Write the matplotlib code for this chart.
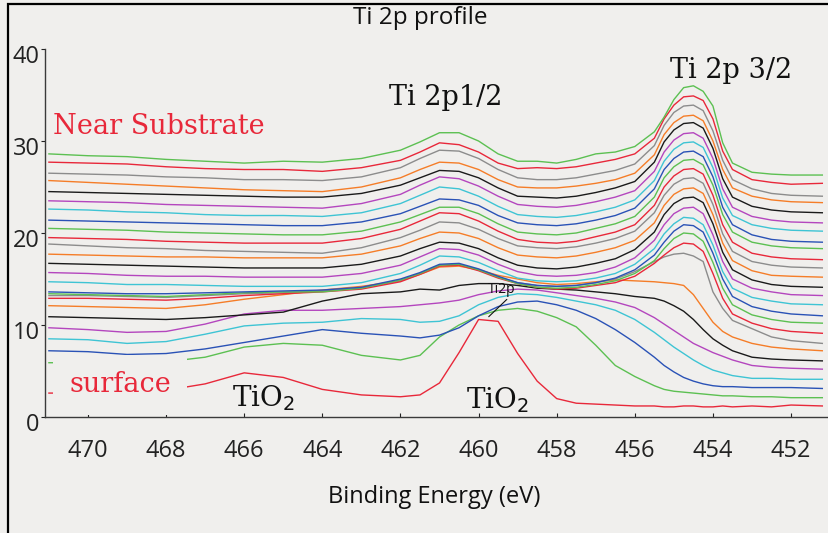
import matplotlib
matplotlib.use("Agg")
import matplotlib.pyplot as plt
from matplotlib.patches import Rectangle
from matplotlib.transforms import ScaledTranslation

# Binding energy grid (eV)
energy = [471, 470, 469, 468, 467, 466, 465, 464, 463, 462, 461.5, 461, 460.5, 460,
          459.5, 459, 458.5, 458, 457.5, 457, 456.5, 456, 455.5, 455.25, 455, 454.75,
          454.5, 454.25, 454, 453.75, 453.5, 453, 452.5, 452, 451.2]

# Depth-profile spectra, surface (bottom) to near substrate (top)
s00_red = [2.6, 2.6, 2.7, 2.9, 3.6, 4.8, 4.3, 3.0, 2.4, 2.2, 2.4, 3.7, 7.0, 10.6, 10.4, 6.9, 3.9, 2.0, 1.5, 1.4, 1.3, 1.2,
           1.2, 1.1, 1.1, 1.2, 1.2, 1.1, 1.1, 1.2, 1.1, 1.2, 1.1, 1.3, 1.2]
s01_green = [5.9, 5.9, 5.9, 6.0, 6.5, 7.6, 8.0, 7.8, 6.7, 6.2, 6.7, 8.7, 10.0, 11.0, 11.6, 11.8, 11.5, 10.8, 9.8, 7.8, 5.6, 4.4,
             3.4, 3.0, 2.8, 2.7, 2.6, 2.5, 2.4, 2.3, 2.3, 2.2, 2.2, 2.1, 2.1]
s02_blue = [7.2, 7.1, 6.8, 6.9, 7.4, 8.1, 8.8, 9.5, 9.1, 8.8, 8.6, 8.9, 9.7, 11.0, 12.0, 12.5, 12.6, 12.2, 11.6, 10.7, 9.5, 8.1,
            6.5, 5.6, 4.9, 4.3, 3.9, 3.6, 3.4, 3.3, 3.3, 3.2, 3.2, 3.2, 3.1]
s03_cyan = [8.5, 8.4, 8.0, 8.2, 9.0, 9.9, 10.2, 10.3, 10.7, 10.6, 10.3, 10.4, 11.0, 12.2, 13.0, 13.4, 13.3, 13.0, 12.6, 12.2, 11.6, 10.6,
            9.2, 8.4, 7.6, 6.9, 6.2, 5.6, 5.1, 4.8, 4.5, 4.2, 4.2, 4.1, 4.1]
s04_magenta = [9.7, 9.5, 9.2, 9.3, 10.1, 11.2, 11.6, 11.6, 11.8, 12.0, 12.2, 12.4, 12.7, 13.3, 13.7, 13.9, 13.8, 13.5, 13.2, 12.9, 12.5, 11.9,
               10.8, 10.1, 9.4, 8.7, 8.0, 7.5, 7.0, 6.6, 6.2, 5.6, 5.4, 5.3, 5.2]
s05_black = [10.9, 10.8, 10.7, 10.6, 10.8, 11.1, 11.4, 12.6, 13.4, 13.6, 13.9, 13.8, 14.3, 14.5, 14.5, 14.3, 14.0, 13.9, 13.8, 13.6, 13.4, 13.1,
             12.9, 12.6, 12.1, 11.5, 10.6, 9.5, 8.5, 7.8, 7.2, 6.5, 6.3, 6.2, 6.1]
s06_orange = [12.1, 12.0, 11.9, 11.8, 12.2, 12.8, 13.3, 13.8, 14.2, 14.8, 15.5, 16.3, 16.4, 16.0, 15.4, 15.0, 14.6, 14.4, 14.5, 14.7, 14.9, 14.8,
              14.7, 14.6, 14.5, 14.3, 13.3, 11.8, 10.3, 9.3, 8.7, 8.0, 7.6, 7.4, 7.2]
s07_gray = [13.2, 13.2, 13.1, 13.0, 13.2, 13.4, 13.5, 13.7, 14.0, 14.8, 15.6, 16.5, 16.6, 16.0, 15.2, 14.6, 14.3, 14.2, 14.3, 14.6, 15.0, 15.8,
            16.9, 17.4, 17.7, 17.8, 17.5, 16.9, 13.6, 11.8, 10.5, 9.6, 8.7, 8.3, 8.0]
s08_red = [12.9, 12.9, 12.8, 12.7, 12.9, 13.2, 13.4, 13.6, 13.9, 14.7, 15.5, 16.4, 16.5, 15.9, 15.1, 14.5, 14.1, 13.9, 14.0, 14.3, 14.6, 15.3,
           16.7, 17.6, 18.4, 18.9, 18.8, 18.0, 15.6, 12.9, 11.2, 10.2, 9.6, 9.3, 9.1]
s09_green = [13.4, 13.3, 13.2, 13.1, 13.3, 13.5, 13.6, 13.6, 14.0, 14.9, 15.6, 16.5, 16.6, 16.0, 15.2, 14.5, 14.1, 14.0, 14.1, 14.4, 14.8, 15.6,
             17.0, 18.3, 19.4, 20.0, 19.9, 19.1, 16.8, 14.0, 12.2, 11.1, 10.6, 10.3, 10.2]
s10_blue = [13.6, 13.5, 13.4, 13.4, 13.5, 13.6, 13.7, 13.8, 14.1, 15.0, 15.7, 16.6, 16.7, 16.1, 15.3, 14.6, 14.3, 14.2, 14.3, 14.6, 15.1, 16.0,
            17.6, 19.0, 20.2, 20.9, 20.8, 20.1, 17.8, 15.0, 13.1, 12.0, 11.5, 11.2, 11.0]
s11_cyan = [14.7, 14.6, 14.4, 14.4, 14.3, 14.2, 14.2, 14.2, 14.6, 15.6, 16.5, 17.5, 17.4, 16.8, 15.9, 15.1, 14.8, 14.7, 14.8, 15.1, 15.6, 16.6,
            18.3, 19.9, 21.0, 21.7, 21.6, 20.9, 18.7, 15.8, 14.0, 13.0, 12.6, 12.3, 12.2]
s12_magenta = [15.7, 15.6, 15.4, 15.3, 15.3, 15.2, 15.2, 15.2, 15.6, 16.5, 17.4, 18.3, 18.2, 17.6, 16.6, 15.8, 15.4, 15.3, 15.4, 15.7, 16.3, 17.3,
               19.2, 20.9, 22.1, 22.7, 22.8, 22.1, 19.8, 16.9, 15.0, 14.0, 13.6, 13.3, 13.2]
s13_black = [16.7, 16.6, 16.5, 16.4, 16.3, 16.2, 16.2, 16.2, 16.6, 17.5, 18.3, 19.0, 18.9, 18.3, 17.3, 16.5, 16.2, 16.1, 16.3, 16.7, 17.2, 18.2,
             20.1, 22.0, 23.2, 23.8, 23.9, 23.3, 21.0, 17.9, 16.0, 14.9, 14.4, 14.2, 14.1]
s14_orange = [17.7, 17.6, 17.5, 17.4, 17.4, 17.3, 17.3, 17.3, 17.7, 18.6, 19.4, 20.1, 20.0, 19.4, 18.4, 17.6, 17.4, 17.3, 17.5, 17.9, 18.4, 19.2,
              21.1, 23.0, 24.2, 24.8, 24.9, 24.3, 22.0, 18.9, 17.0, 15.9, 15.4, 15.3, 15.2]
s15_gray = [18.8, 18.6, 18.4, 18.3, 18.1, 18.0, 17.9, 17.8, 18.4, 19.5, 20.3, 21.2, 21.1, 20.4, 19.4, 18.6, 18.4, 18.3, 18.5, 18.9, 19.4, 20.2,
            22.2, 24.1, 25.3, 25.9, 26.0, 25.4, 23.1, 19.9, 18.0, 16.9, 16.5, 16.3, 16.2]
s16_red = [19.5, 19.4, 19.3, 19.1, 19.0, 18.9, 18.9, 18.9, 19.4, 20.4, 21.3, 22.2, 22.1, 21.3, 20.2, 19.3, 19.0, 18.9, 19.1, 19.6, 20.1, 20.9,
           23.0, 25.0, 26.2, 26.9, 27.0, 26.4, 24.1, 20.9, 19.0, 17.8, 17.4, 17.2, 17.1]
s17_green = [20.5, 20.4, 20.3, 20.1, 20.0, 19.9, 19.8, 19.8, 20.2, 21.2, 22.0, 22.8, 22.8, 22.1, 21.0, 20.1, 19.9, 19.8, 20.0, 20.5, 21.0, 21.8,
             23.9, 26.0, 27.2, 27.9, 28.0, 27.4, 25.2, 22.0, 20.1, 19.0, 18.6, 18.4, 18.3]
s18_blue = [21.4, 21.3, 21.2, 21.1, 21.0, 20.9, 20.8, 20.8, 21.2, 22.1, 22.9, 23.7, 23.6, 23.0, 21.9, 21.1, 20.9, 20.8, 21.0, 21.4, 21.9, 22.7,
            24.8, 26.9, 28.1, 28.8, 28.9, 28.3, 26.1, 22.8, 20.9, 19.8, 19.3, 19.1, 19.0]
s19_cyan = [22.6, 22.5, 22.3, 22.2, 22.0, 21.9, 21.9, 21.8, 22.2, 23.2, 24.1, 25.0, 24.8, 24.0, 22.9, 22.0, 21.8, 21.7, 21.9, 22.3, 22.8, 23.6,
            25.7, 27.8, 29.1, 29.8, 29.9, 29.3, 27.1, 23.8, 21.9, 20.9, 20.5, 20.3, 20.2]
s20_magenta = [23.5, 23.4, 23.3, 23.1, 23.0, 22.9, 22.8, 22.7, 23.2, 24.2, 25.2, 26.1, 25.9, 25.1, 24.0, 23.1, 22.9, 22.8, 23.0, 23.4, 23.9, 24.6,
               26.7, 28.8, 30.1, 30.8, 30.9, 30.3, 28.1, 24.8, 22.8, 21.8, 21.4, 21.2, 21.1]
s21_black = [24.5, 24.4, 24.3, 24.2, 24.1, 24.0, 23.9, 23.9, 24.3, 25.2, 26.0, 26.8, 26.7, 26.0, 24.9, 24.0, 23.9, 23.8, 24.0, 24.4, 24.9, 25.6,
             27.7, 29.9, 31.2, 31.9, 32.0, 31.4, 29.2, 25.9, 23.9, 22.9, 22.5, 22.3, 22.2]
s22_orange = [25.7, 25.5, 25.3, 25.1, 24.9, 24.7, 24.6, 24.5, 25.0, 26.0, 26.9, 27.7, 27.6, 26.9, 25.8, 25.0, 24.9, 24.9, 25.1, 25.4, 25.8, 26.5,
              28.5, 30.7, 32.0, 32.7, 32.8, 32.2, 30.0, 26.9, 24.9, 24.0, 23.6, 23.4, 23.3]
s23_gray = [26.5, 26.4, 26.3, 26.1, 26.0, 25.8, 25.8, 25.7, 26.1, 27.1, 28.1, 29.0, 28.9, 28.1, 26.9, 26.0, 25.8, 25.8, 26.0, 26.4, 26.8, 27.5,
            29.5, 31.7, 33.1, 33.8, 33.9, 33.3, 31.1, 27.9, 25.8, 24.8, 24.3, 24.1, 24.0]
s24_red = [27.7, 27.6, 27.5, 27.2, 27.0, 26.9, 26.9, 26.7, 27.1, 27.9, 28.8, 29.8, 29.6, 28.8, 27.6, 27.0, 27.1, 27.0, 27.2, 27.6, 28.0, 28.6,
           30.3, 32.4, 33.9, 34.8, 34.9, 34.4, 32.4, 28.9, 26.9, 25.8, 25.5, 25.3, 25.4]
s25_green = [28.6, 28.4, 28.3, 28.0, 27.8, 27.6, 27.8, 27.7, 28.1, 29.0, 29.9, 30.9, 30.9, 30.0, 28.6, 27.8, 27.8, 27.6, 28.0, 28.6, 28.8, 29.4,
             31.0, 32.6, 34.5, 35.8, 36.0, 35.4, 33.8, 29.8, 27.6, 26.6, 26.4, 26.3, 26.3]

spectra = [s00_red, s01_green, s02_blue, s03_cyan, s04_magenta, s05_black, s06_orange,
           s07_gray, s08_red, s09_green, s10_blue, s11_cyan, s12_magenta, s13_black,
           s14_orange, s15_gray, s16_red, s17_green, s18_blue, s19_cyan, s20_magenta,
           s21_black, s22_orange, s23_gray, s24_red, s25_green]

x_ticks = [470, 468, 466, 464, 462, 460, 458, 456, 454, 452]
y_ticks = [0, 10, 20, 30, 40]

palette = {"red": "#e8283a", "green": "#5cc052", "blue": "#2a52b6", "cyan": "#3ec4d4",
           "magenta": "#b446be", "black": "#1a1a1a", "orange": "#f57d28", "gray": "#8c8c8c"}
color_cycle = ["red", "green", "blue", "cyan", "magenta", "black", "orange", "gray"]

BG = "#f0efed"
SANS = ["Open Sans", "DejaVu Sans"]
SERIF = ["DejaVu Serif"]

W, H = 829, 533
fig = plt.figure(figsize=(W / 100, H / 100), dpi=100, facecolor=BG)
ax = fig.add_axes([45 / W, 116 / H, (827 - 45) / W, 368 / H], facecolor=BG)

for i, ys in enumerate(spectra):
    ax.plot(energy, ys, color=palette[color_cycle[i % 8]], lw=1.0, zorder=2)

ax.set_xlim(471.1, 451.08)
ax.set_ylim(0, 40)
ax.set_xticks(x_ticks)
ax.set_yticks(y_ticks)
for s in ["top", "right"]:
    ax.spines[s].set_visible(False)
for s in ["left", "bottom"]:
    ax.spines[s].set_color("#3a3a3a")
    ax.spines[s].set_linewidth(1.0)
ax.tick_params(axis="x", direction="in", length=3, pad=16, labelsize=17, colors="#222222")
ax.tick_params(axis="y", direction="out", length=3, pad=1, labelsize=17, colors="#222222")
for lab in ax.get_xticklabels() + ax.get_yticklabels():
    lab.set_family(SANS)
for lab in ax.get_yticklabels():
    lab.set_transform(lab.get_transform() + ScaledTranslation(0, -5 / 100, fig.dpi_scale_trans))

# Titles
fig.text(420 / W, 1 - 18 / H, "Ti 2p profile", ha="center", va="center",
         fontsize=17.5, family=SANS, color="#111111")
fig.text(434 / W, 1 - 497 / H, "Binding Energy (eV)", ha="center", va="center",
         fontsize=17, family=SANS, color="#111111")

# Annotations
ax.text(460.85, 34.7, "Ti 2p1/2", ha="center", va="center", fontsize=19.5, family=SERIF, color="#111111")
ax.text(453.54, 37.7, "Ti 2p 3/2", ha="center", va="center", fontsize=19.5, family=SERIF, color="#111111")
ax.text(468.18, 31.6, "Near Substrate", ha="center", va="center", fontsize=19.5, family=SERIF, color="#e8283a")
ax.text(469.18, 3.5, "surface", ha="center", va="center", fontsize=19.5, family=SERIF, color="#e8283a",
        bbox=dict(boxstyle="square,pad=0.6", fc=BG, ec="none"), zorder=5)
ax.text(465.51, 2.1, "TiO$_2$", ha="center", va="center", fontsize=20, family=SERIF, color="#111111")
ax.text(459.51, 1.85, "TiO$_2$", ha="center", va="center", fontsize=20, family=SERIF, color="#111111")
ax.annotate("Ti2p", xy=(459.74, 10.9), xytext=(459.41, 13.9), ha="center", va="center",
            fontsize=10, family=SANS, color="#111111",
            arrowprops=dict(arrowstyle="-", color="#111111", lw=0.8, relpos=(0.85, 0.1),
                            shrinkA=0, shrinkB=0))

# Figure frame
fig.add_artist(Rectangle((8 / W, -0.05), 1.2, 1 - 4 / H + 0.05, transform=fig.transFigure,
                         fill=False, ec="black", lw=1.6))

fig.savefig("out.png", dpi=100, facecolor=BG)
